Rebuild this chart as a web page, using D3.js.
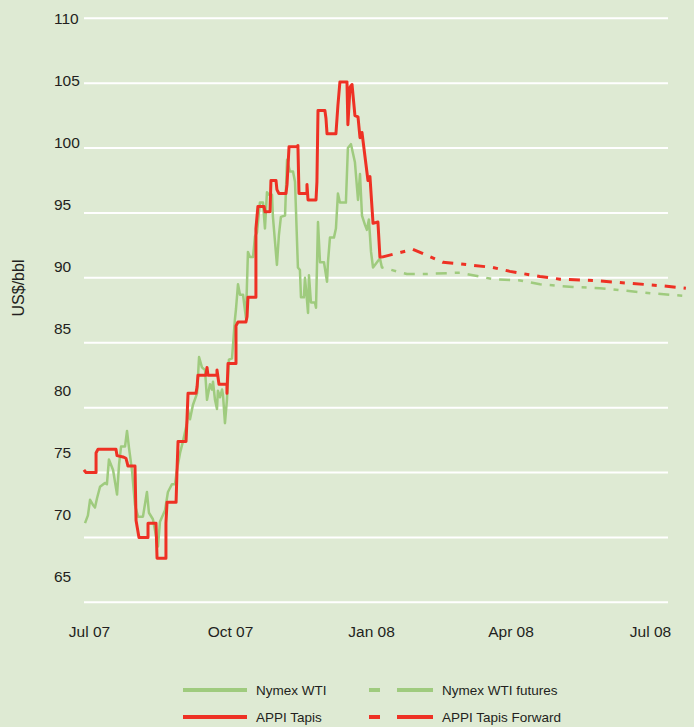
<!DOCTYPE html>
<html>
<head>
<meta charset="utf-8">
<script src="https://cdn.jsdelivr.net/npm/d3@7"></script>
<style>
body { margin: 0; background: #deead3; }
svg { display: block; font-family: "Liberation Sans", Arial, sans-serif; }
</style>
</head>
<body>
<svg id="chart"></svg>
<script>
// points are [days after 1 Jul 2007, US$/bbl]
var wti = [
  [-2.6,71.1],[-0.7,71.7],[0.7,72.9],[2.6,72.5],[3.9,72.3],[5.2,73.0],[7.2,73.9],[10.4,74.2],[11.7,74.1],[13.0,76.0],
  [15.7,75.2],[18.3,73.3],[19.6,75.6],[20.9,77.0],[23.5,77.0],[24.8,78.2],[26.1,76.9],[28.0,75.2],[30.0,72.5],[32.0,71.6],
  [35.2,71.6],[37.8,73.5],[39.1,71.9],[41.7,71.4],[45.0,69.3],[46.3,71.2],[49.6,72.1],[51.5,73.5],[54.1,74.1],[56.1,74.1],
  [57.4,75.2],[59.4,76.5],[61.3,77.4],[63.9,78.8],[64.6,79.8],[65.9,79.1],[67.8,80.2],[70.5,81.1],[71.8,83.9],[73.7,83.1],
  [75.7,82.9],[77.0,80.6],[78.9,81.8],[80.2,81.4],[80.9,82.0],[82.2,80.6],[83.5,79.9],[84.1,81.3],[85.5,80.8],[86.8,81.4],
  [87.4,81.0],[88.7,78.8],[90.0,80.6],[91.3,83.7],[93.3,83.8],[95.2,86.8],[95.9,87.6],[97.2,89.5],[98.5,88.7],[100.5,88.7],
  [102.4,86.9],[103.7,92.0],[105.0,91.6],[107.0,91.6],[108.3,93.2],[109.6,93.5],[111.5,95.8],[113.5,95.8],[114.8,93.8],[116.1,96.6],
  [117.4,96.4],[119.4,96.4],[120.0,94.7],[122.6,91.0],[123.9,93.3],[125.2,94.7],[127.9,94.8],[129.2,99.1],[131.1,98.2],[133.1,98.2],
  [134.4,97.4],[136.3,90.8],[137.6,90.6],[138.3,88.5],[140.2,88.5],[140.9,90.0],[142.2,88.3],[142.9,87.3],[143.5,90.2],[144.8,88.1],
  [147.4,88.1],[148.1,87.7],[149.4,94.3],[150.7,91.2],[153.3,91.2],[155.3,89.7],[155.9,91.2],[157.2,93.1],[159.8,93.1],[161.1,93.8],
  [162.4,96.5],[163.7,95.8],[167.6,95.8],[168.9,100.0],[170.9,100.3],[173.5,98.9],[175.5,96.0],[176.8,98.0],[178.1,94.8],[180.0,94.1],
  [181.3,93.7],[182.6,94.5],[184.0,92.0],[185.3,90.8],[188.5,91.3],[189.8,91.5]
];
var wtiFutures = [
  [189.8,91.5],[191.1,90.8],[207.4,90.3],[220.5,90.3],[242.0,90.4],[250.5,90.2],[263.5,89.9],[281.2,89.8],[294.2,89.5],
  [315.7,89.3],[333.3,89.2],[350.9,89.0],[367.9,88.8],[389.4,88.6]
];
var tapis = [
  [-3.3,75.2],[-2.0,75.0],[4.6,75.0],[4.6,76.5],[5.9,76.8],[17.6,76.8],[18.3,76.3],[22.2,76.2],[24.1,76.1],[24.8,75.8],
  [25.4,75.5],[30.0,75.5],[30.7,71.3],[32.6,70.0],[38.5,70.0],[38.5,71.1],[43.7,71.1],[44.4,68.4],[50.2,68.4],[50.2,71.1],
  [50.9,72.7],[56.8,72.7],[57.4,75.1],[58.1,77.4],[63.3,77.4],[63.9,79.0],[64.6,81.1],[69.8,81.1],[70.5,81.6],[71.1,82.5],
  [76.3,82.5],[77.0,83.1],[77.6,82.5],[83.5,82.5],[83.5,82.9],[84.8,81.8],[90.0,81.8],[90.0,81.1],[90.7,83.4],[95.9,83.4],
  [95.9,86.3],[97.2,86.6],[102.4,86.6],[103.1,87.0],[103.7,88.5],[108.9,88.5],[108.9,93.8],[110.2,95.5],[114.2,95.5],[114.8,95.1],
  [118.1,95.1],[118.7,97.5],[122.0,97.5],[122.6,96.8],[123.9,96.5],[128.5,96.5],[129.2,97.2],[130.5,100.1],[135.7,100.1],[136.3,100.2],
  [137.0,96.5],[142.2,96.5],[142.2,97.2],[142.9,96.0],[148.1,96.0],[148.7,97.4],[149.4,102.9],[153.9,102.9],[154.6,102.3],[155.3,101.1],
  [161.1,101.1],[162.4,103.3],[163.7,105.1],[168.3,105.1],[168.9,101.8],[170.3,104.7],[171.6,104.9],[173.5,102.5],[175.5,102.4],[176.8,100.8],
  [178.1,101.2],[182.0,97.5],[183.3,97.8],[185.3,94.2],[188.5,94.3],[189.8,91.6],[191.1,91.6]
];
var tapisForward = [
  [191.1,91.6],[211.3,92.2],[230.9,91.2],[240.1,91.1],[263.5,90.8],[274.6,90.5],[294.2,90.1],[307.3,89.9],
  [328.8,89.8],[350.9,89.6],[372.5,89.4],[389.4,89.2]
];
var yTicks = [110, 105, 100, 95, 90, 85, 80, 75, 70, 65];
var xTickDays = [0, 92, 184, 275, 366];
var xTickLabels = ["Jul 07", "Oct 07", "Jan 08", "Apr 08", "Jul 08"];
var legendNames = ["Nymex WTI", "Nymex WTI futures", "APPI Tapis", "APPI Tapis Forward"];

var green = "#9fcb7e", red = "#ee3124", ink = "#231f20";
var start = Date.UTC(2007, 6, 1);
function dayToDate(d) { return new Date(start + d * 864e5); }

var svgWidth = 694, svgHeight = 727;
var svg = d3.select("#chart")
    .attr("width", svgWidth)
    .attr("height", svgHeight);

svg.append("rect")
    .attr("width", svgWidth)
    .attr("height", svgHeight)
    .attr("fill", "#deead3");

var x = d3.scaleUtc().domain([dayToDate(0), dayToDate(366)]).range([89, 650]);
var y = d3.scaleLinear().domain([65, 110]).range([602.3, 18.3]);
// the printed tick labels sit on a slightly tighter spacing than the grid
var yLabel = d3.scaleLinear().domain([65, 110]).range([576, 18]);

// grid
svg.append("g")
    .selectAll("line")
    .data(yTicks)
    .join("line")
    .attr("x1", 84)
    .attr("x2", 668)
    .attr("y1", function(d) { return y(d); })
    .attr("y2", function(d) { return y(d); })
    .attr("stroke", "#ffffff")
    .attr("stroke-width", 2);

var yAxis = svg.append("g")
    .attr("transform", "translate(54,0)")
    .call(d3.axisLeft(yLabel).tickValues(yTicks).tickSize(0).tickFormat(d3.format("d")));
yAxis.select(".domain").remove();
yAxis.selectAll("text")
    .attr("x", 0)
    .attr("dy", "0.36em")
    .attr("text-anchor", "start")
    .attr("fill", ink)
    .style("font-size", "15.5px");

var xAxis = svg.append("g")
    .attr("transform", "translate(0,631)")
    .call(d3.axisBottom(x)
        .tickValues(xTickDays.map(dayToDate))
        .tickSize(0)
        .tickFormat(function(d, i) { return xTickLabels[i]; }));
xAxis.select(".domain").remove();
xAxis.selectAll("text")
    .attr("y", 0)
    .attr("dy", "0.36em")
    .attr("fill", ink)
    .style("font-size", "15.5px");

svg.append("text")
    .attr("transform", "translate(24,288) rotate(-90)")
    .attr("text-anchor", "middle")
    .attr("fill", ink)
    .style("font-size", "16px")
    .text("US$/bbl");

var line = d3.line()
    .x(function(d) { return x(dayToDate(d[0])); })
    .y(function(d) { return y(d[1]); });

var series = [
    { data: wti, color: green, width: 2.5, dash: null },
    { data: wtiFutures, color: green, width: 2.5, dash: "11,8,5,8" },
    { data: tapis, color: red, width: 3, dash: null },
    { data: tapisForward, color: red, width: 3, dash: "11,8,5,8" }
];

series.forEach(function(s) {
    svg.append("path")
        .datum(s.data)
        .attr("fill", "none")
        .attr("stroke", s.color)
        .attr("stroke-width", s.width)
        .attr("stroke-linejoin", "round")
        .attr("stroke-dasharray", s.dash)
        .attr("d", line);
});

// legend
var legendPos = [[183, 690], [369, 690], [183, 717], [369, 717]];
var legend = svg.append("g");
series.forEach(function(s, i) {
    var p = legendPos[i];
    legend.append("line")
        .attr("x1", p[0])
        .attr("x2", p[0] + 64)
        .attr("y1", p[1])
        .attr("y2", p[1])
        .attr("stroke", s.color)
        .attr("stroke-width", 4)
        .attr("stroke-dasharray", s.dash ? "11,17,40" : null);
    legend.append("text")
        .attr("x", p[0] + 73)
        .attr("y", p[1])
        .attr("dy", "0.36em")
        .attr("fill", ink)
        .style("font-size", "13.5px")
        .text(legendNames[i]);
});
</script>
</body>
</html>
